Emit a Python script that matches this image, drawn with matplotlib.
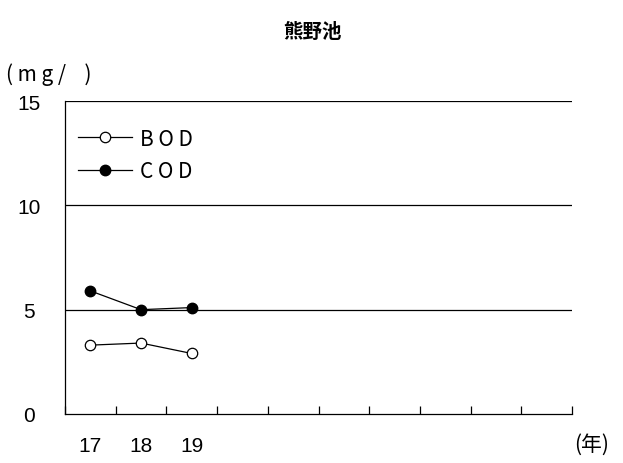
import matplotlib
matplotlib.use("Agg")
import matplotlib.pyplot as plt

plt.rcParams['font.family'] = ['Liberation Sans', 'Noto Sans CJK JP', 'DejaVu Sans']

# 年度 (平成), 10 slots on the axis
years = ['17', '18', '19', '', '', '', '', '', '', '']
bod = [3.3, 3.4, 2.9]
cod = [5.9, 5.0, 5.1]

fig = plt.figure(figsize=(6.23, 4.64), dpi=100)
ax = fig.add_axes([65 / 623, 1 - 415 / 464, (572 - 65) / 623, (415 - 102) / 464])

xs = [i + 0.5 for i in range(len(bod))]
ax.plot(xs, bod, color='black', lw=0.9, marker='o', ms=7.5, mfc='white', mec='black', mew=0.9,
        label='B O D', zorder=3)
ax.plot(xs, cod, color='black', lw=0.9, marker='o', ms=7.5, mfc='black', mec='black',
        label='C O D', zorder=3)

ax.set_xlim(0, len(years))
ax.set_ylim(0, 15)
ax.set_yticks([0, 5, 10, 15])
ax.set_yticklabels(['0', '5', '10', '15'], fontsize=15, ha='center')
for v in [5, 10, 15]:
    ax.axhline(v, color='black', lw=0.9, zorder=1)

ax.set_xticks(range(len(years) + 1))
ax.set_xticklabels([''] * (len(years) + 1))
ax.tick_params(axis='x', direction='in', length=6, width=0.9)
ax.tick_params(axis='y', length=0, pad=26)
for i, y in enumerate(years):
    if y:
        ax.text(i + 0.5, -1.5, y, ha='center', va='center', fontsize=15)

ax.spines['top'].set_visible(False)
ax.spines['right'].set_visible(False)
ax.spines['left'].set_linewidth(0.9)
ax.spines['bottom'].set_linewidth(0.9)

leg = ax.legend(loc='upper left', bbox_to_anchor=(-0.012, 0.975), frameon=False, fontsize=15,
                handlelength=2.6, handletextpad=0.4, labelspacing=0.5)
for t in leg.get_texts():
    t.set_family(['Noto Sans CJK JP'])

fig.text(312 / 623, 1 - 32 / 464, '熊野池', ha='center', va='center', fontsize=14,
         fontweight='bold', family=['Noto Sans CJK JP'])
fig.text(6 / 623, 1 - 75 / 464, '( m g /    )', ha='left', va='center', fontsize=15,
         family=['Noto Sans CJK JP'])
fig.text(574 / 623, 1 - 445 / 464, '(年)', ha='left', va='center', fontsize=15,
         family=['Noto Sans CJK JP'])

fig.savefig('out.png', dpi=100)
